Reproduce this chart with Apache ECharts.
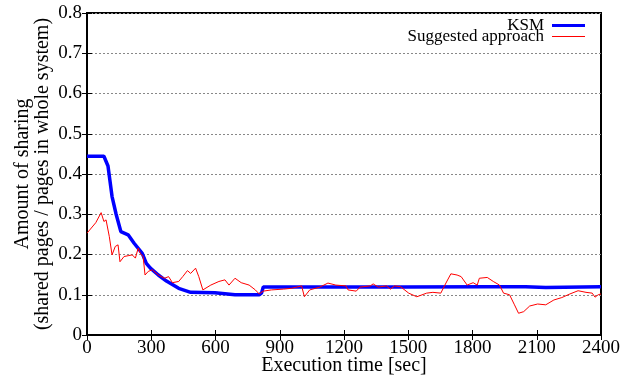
<!DOCTYPE html>
<html>
<head>
<meta charset="utf-8">
<script src="https://cdn.jsdelivr.net/npm/echarts@6/dist/echarts.min.js"></script>
<style>html,body{margin:0;padding:0;background:#fff;}#c{width:633px;height:376px;}</style>
</head>
<body>
<div id="c"></div>
<script>
var xTicks = [0, 300, 600, 900, 1200, 1500, 1800, 2100, 2400];
var yTicks = [0, 0.1, 0.2, 0.3, 0.4, 0.5, 0.6, 0.7, 0.8];
var seriesNames = ['KSM', 'Suggested approach'];

var ksmTime = [0, 79, 98, 117, 136, 158, 192, 220, 258, 277, 296, 333, 371, 428, 484, 597, 691, 804, 815, 823, 1483, 1860, 2048, 2142, 2400];
var ksmValue = [0.444, 0.444, 0.42, 0.344, 0.30, 0.257, 0.249, 0.228, 0.203, 0.178, 0.166, 0.149, 0.134, 0.116, 0.106, 0.105, 0.100, 0.100, 0.104, 0.119, 0.119, 0.120, 0.120, 0.118, 0.120];

var sugTime = [0, 41, 66, 79, 89, 104, 117, 132, 145, 154, 173, 192, 211, 226, 239, 249, 262, 271, 286, 305, 333, 362, 381, 399, 428, 447, 469, 484, 507, 522, 541, 550, 578, 616, 644, 663, 691, 720, 757, 786, 804, 823, 861, 917, 955, 1002, 1015, 1040, 1087, 1125, 1162, 1209, 1219, 1257, 1275, 1323, 1336, 1360, 1398, 1417, 1436, 1464, 1502, 1540, 1586, 1615, 1652, 1671, 1699, 1728, 1747, 1775, 1803, 1822, 1832, 1869, 1897, 1926, 1945, 1973, 1996, 2015, 2039, 2067, 2104, 2142, 2180, 2217, 2255, 2293, 2330, 2359, 2372, 2387, 2400];
var sugValue = [0.253, 0.279, 0.304, 0.282, 0.286, 0.245, 0.199, 0.220, 0.224, 0.182, 0.195, 0.197, 0.199, 0.191, 0.216, 0.203, 0.195, 0.149, 0.158, 0.162, 0.149, 0.141, 0.145, 0.130, 0.133, 0.145, 0.160, 0.153, 0.166, 0.145, 0.112, 0.108, 0.124, 0.133, 0.137, 0.124, 0.141, 0.130, 0.124, 0.112, 0.102, 0.109, 0.112, 0.114, 0.116, 0.122, 0.095, 0.112, 0.119, 0.129, 0.124, 0.122, 0.112, 0.109, 0.119, 0.122, 0.127, 0.119, 0.122, 0.114, 0.122, 0.120, 0.104, 0.095, 0.104, 0.106, 0.104, 0.124, 0.152, 0.149, 0.145, 0.124, 0.130, 0.124, 0.141, 0.143, 0.133, 0.124, 0.104, 0.100, 0.075, 0.054, 0.058, 0.072, 0.077, 0.075, 0.087, 0.093, 0.102, 0.110, 0.106, 0.104, 0.094, 0.100, 0.102];

function pairs(t, v) { return t.map(function (x, i) { return [x, v[i]]; }); }

var font = 'Liberation Serif';
var chart = echarts.init(document.getElementById('c'));
var tickStyle = { show: true, inside: true, length: 5, lineStyle: { color: '#000', width: 1 } };
chart.setOption({
  animation: false,
  backgroundColor: '#fff',
  textStyle: { fontFamily: font },
  grid: { left: 87, right: 32, top: 13, bottom: 41, show: true, borderColor: '#000', borderWidth: 2, containLabel: false, outerBoundsMode: 'none' },
  legend: {
    orient: 'vertical', right: 48, top: 17, align: 'right', padding: 0,
    itemGap: -6, itemWidth: 33, itemHeight: 3,
    textStyle: { fontFamily: font, fontSize: 17, color: '#000', padding: [0, 3, 0, 0] },
    data: [
      { name: seriesNames[0], icon: 'path://M0,0H33V3H0Z', itemStyle: { color: '#0000ff' } },
      { name: seriesNames[1], icon: 'path://M0,0H33V1H0Z', itemStyle: { color: '#ff0000' } }
    ]
  },
  xAxis: [{
    type: 'value', min: xTicks[0], max: xTicks[xTicks.length - 1], interval: 300,
    name: 'Execution time [sec]', nameLocation: 'middle', nameGap: 21, nameMoveOverlap: false,
    nameTextStyle: { fontFamily: font, fontSize: 20, color: '#000' },
    axisLine: { show: true, lineStyle: { color: '#000', width: 2 } },
    axisTick: tickStyle,
    axisLabel: { fontFamily: font, fontSize: 19, color: '#000', margin: 4, formatter: function (v) { return String(v); } },
    splitLine: { show: false }
  }, {
    type: 'value', position: 'top', min: xTicks[0], max: xTicks[xTicks.length - 1], interval: 300,
    axisLine: { show: true, lineStyle: { color: '#000', width: 2 } },
    axisTick: tickStyle, axisLabel: { show: false }, splitLine: { show: false }
  }],
  yAxis: [{
    type: 'value', min: yTicks[0], max: yTicks[yTicks.length - 1], interval: 0.1,
    name: 'Amount of sharing\n(shared pages / pages in whole system)',
    nameLocation: 'middle', nameGap: 34, nameRotate: 90, nameMoveOverlap: false,
    nameTextStyle: { fontFamily: font, fontSize: 20, color: '#000', lineHeight: 20, align: 'center' },
    axisLine: { show: true, lineStyle: { color: '#000', width: 2 } },
    axisTick: tickStyle,
    axisLabel: { fontFamily: font, fontSize: 19, color: '#000', margin: 5, formatter: function (v) { return String(+v.toFixed(1)); } },
    splitLine: { show: true, lineStyle: { color: '#888', type: [2, 2], width: 1 } }
  }, {
    type: 'value', position: 'right', min: yTicks[0], max: yTicks[yTicks.length - 1], interval: 0.1,
    axisLine: { show: true, lineStyle: { color: '#000', width: 2 } },
    axisTick: tickStyle, axisLabel: { show: false }, splitLine: { show: false }
  }],
  series: [{
    name: seriesNames[0], type: 'line', showSymbol: false, symbol: 'none',
    data: pairs(ksmTime, ksmValue),
    lineStyle: { color: '#0000ff', width: 3.5 }, itemStyle: { color: '#0000ff' }, z: 2
  }, {
    name: seriesNames[1], type: 'line', showSymbol: false, symbol: 'none',
    data: pairs(sugTime, sugValue),
    lineStyle: { color: '#ff0000', width: 1 }, itemStyle: { color: '#ff0000' }, z: 3
  }]
});
</script>
</body>
</html>
